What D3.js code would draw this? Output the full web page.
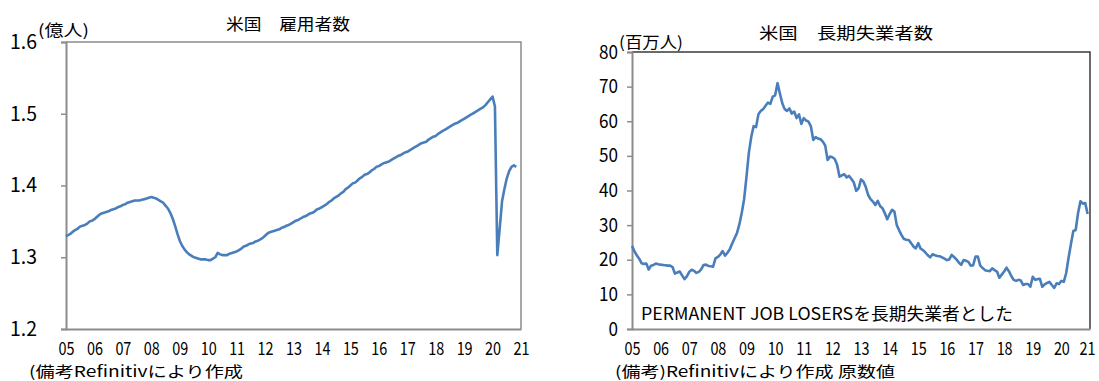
<!DOCTYPE html>
<html>
<head>
<meta charset="utf-8">
<script src="https://cdn.jsdelivr.net/npm/d3@7"></script>
<style>
body { margin: 0; background: #fff; }
svg text { font-family: "Noto Sans CJK JP", "Noto Sans", sans-serif; fill: #000; }
</style>
</head>
<body>
<svg id="chart" width="1099" height="381"></svg>
<script>
// x axis: one label per year, 05 .. 21
const yearLabels = ['05','06','07','08','09','10','11','12','13','14','15','16','17','18','19','20','21'];

// 米国 雇用者数 (億人), monthly
const employment = [
	1.329,1.331,1.333,1.336,1.338,1.340,1.343,1.344,1.345,1.347,1.350,1.351,
	1.353,1.356,1.359,1.361,1.362,1.363,1.364,1.366,1.367,1.368,1.370,1.371,
	1.373,1.374,1.376,1.377,1.378,1.379,1.379,1.379,1.380,1.381,1.382,1.383,
	1.384,1.383,1.382,1.380,1.378,1.376,1.372,1.368,1.362,1.354,1.344,1.333,
	1.323,1.316,1.311,1.307,1.304,1.302,1.300,1.299,1.298,1.297,1.297,1.297,
	1.296,1.296,1.298,1.300,1.306,1.304,1.303,1.303,1.303,1.305,1.306,1.307,
	1.308,1.310,1.312,1.315,1.316,1.318,1.319,1.320,1.322,1.323,1.325,1.327,
	1.330,1.333,1.335,1.336,1.337,1.338,1.339,1.341,1.342,1.344,1.345,1.347,
	1.349,1.351,1.352,1.354,1.356,1.357,1.359,1.361,1.362,1.364,1.367,1.368,
	1.370,1.372,1.374,1.377,1.379,1.382,1.384,1.386,1.389,1.391,1.395,1.397,
	1.400,1.403,1.404,1.407,1.410,1.412,1.415,1.416,1.418,1.421,1.423,1.426,
	1.427,1.429,1.431,1.432,1.433,1.435,1.437,1.439,1.441,1.442,1.444,1.446,
	1.447,1.449,1.451,1.453,1.455,1.457,1.459,1.460,1.461,1.464,1.466,1.468,
	1.469,1.472,1.474,1.476,1.478,1.480,1.482,1.484,1.486,1.487,1.489,1.491,
	1.493,1.495,1.497,1.499,1.501,1.503,1.505,1.507,1.509,1.512,1.516,1.520,
	1.524,1.510,1.303,1.340,1.378,1.395,1.410,1.420,1.426,1.428,1.426
];

// 米国 長期失業者数 (百万人), monthly, 原数値
const longTermJobless = [
	24.0,22.5,21.3,20.3,19.0,18.8,18.9,17.2,18.3,18.5,18.9,18.7,
	18.6,18.5,18.4,18.3,18.3,17.9,16.0,16.3,16.6,15.5,14.4,15.2,
	16.5,17.1,16.8,16.2,16.5,17.2,18.5,18.6,18.2,18.1,18.0,20.4,
	20.8,21.5,22.5,21.2,22.0,23.0,24.7,26.2,27.7,30.2,33.5,37.5,
	44.0,51.0,55.5,58.6,58.3,62.0,63.0,63.5,64.5,65.4,65.0,67.1,
	67.5,71.0,68.0,65.2,63.5,63.0,63.7,62.2,62.8,60.9,62.0,59.2,
	60.9,60.2,59.9,58.5,54.6,55.4,55.0,54.8,54.1,53.0,48.8,49.8,
	49.6,49.1,47.4,44.0,44.4,44.7,43.8,44.2,43.3,42.3,39.9,40.6,
	43.2,42.6,41.0,38.7,37.5,36.8,35.8,37.0,35.5,34.9,33.4,31.7,
	33.2,34.4,33.9,30.0,28.5,27.1,26.0,25.8,25.7,24.8,23.8,23.3,
	24.8,23.2,22.8,22.1,21.3,20.7,21.6,21.3,21.1,21.0,20.7,20.3,
	19.9,20.1,21.4,20.8,20.1,19.2,18.5,19.9,19.7,19.4,18.3,18.4,
	20.9,20.9,18.3,17.6,17.0,16.8,16.7,17.5,17.0,16.6,14.8,15.7,
	16.6,17.7,16.7,15.3,14.2,13.9,14.2,14.0,12.7,13.0,13.0,12.2,
	15.1,14.2,14.4,14.5,12.2,12.9,13.3,13.6,12.7,11.9,13.2,13.0,
	13.9,13.6,16.1,20.5,24.5,28.3,28.6,33.5,36.9,36.2,36.4,33.2
];

const leftTicks = [1.2, 1.3, 1.4, 1.5, 1.6];
const rightTicks = [0, 10, 20, 30, 40, 50, 60, 70, 80];

const lineColour = '#4a7ebb';
const axisColour = '#8c8c8c';
const svg = d3.select('#chart');

const drawPanel = cfg => {
	const x = d3.scaleLinear()
		.domain([0, (yearLabels.length - 1) * 12])
		.range([cfg.left, cfg.right]);
	const y = d3.scaleLinear()
		.domain(cfg.domain)
		.range([cfg.bottom, cfg.top]);

	const g = svg.append('g');

	// frame: top / right
	g.append('path')
		.attr('d', `M${cfg.left},${cfg.top}H${cfg.right}V${cfg.bottom}`)
		.attr('fill', 'none')
		.attr('stroke', cfg.frameColour)
		.attr('stroke-width', 1.5);

	// y axis
	g.append('g')
		.attr('transform', `translate(${cfg.left},0)`)
		.call(d3.axisLeft(y)
			.tickValues(cfg.ticks)
			.tickSize(5)
			.tickPadding(cfg.tickPad)
			.tickFormat(cfg.fmt))
		.call(a => a.select('.domain').attr('stroke', axisColour).attr('stroke-width', 2))
		.call(a => a.selectAll('.tick line').attr('stroke', axisColour).attr('stroke-width', 1.5))
		.call(a => a.selectAll('.tick text')
			.attr('font-size', cfg.yFont)
			.attr('fill', '#000')
			.attr('textLength', function () { return this.textContent.length * cfg.yChar; })
			.attr('lengthAdjust', 'spacingAndGlyphs'));

	// x axis, labels only
	const lastTick = (yearLabels.length - 1) * 12;
	g.append('g')
		.attr('transform', `translate(0,${cfg.bottom})`)
		.call(d3.axisBottom(x)
			.tickValues(yearLabels.map((d, i) => i * 12))
			.tickSize(0)
			.tickPadding(13)
			.tickFormat((d, i) => yearLabels[i]))
		.call(a => a.select('.domain').attr('stroke', axisColour).attr('stroke-width', 2))
		.call(a => a.selectAll('.tick text')
			.attr('font-size', 18)
			.attr('fill', '#000')
			.attr('dx', d => d === lastTick ? -cfg.lastShift : 0)
			.attr('textLength', 16)
			.attr('lengthAdjust', 'spacingAndGlyphs'));

	// series
	g.append('path')
		.datum(cfg.data)
		.attr('fill', 'none')
		.attr('stroke', lineColour)
		.attr('stroke-width', 2.6)
		.attr('stroke-linejoin', 'round')
		.attr('d', d3.line()
			.x((d, i) => x(i))
			.y(d => y(d)));

	// texts
	cfg.labels.forEach(t => {
		const txt = g.append('text')
			.attr('x', t.x)
			.attr('y', t.y)
			.attr('font-size', t.size)
			.attr('text-anchor', t.anchor || 'start')
			.attr('dominant-baseline', 'central')
			.text(t.text);
		if (t.len) txt.attr('textLength', t.len).attr('lengthAdjust', 'spacingAndGlyphs');
	});
};

drawPanel({
	left: 66, right: 521, top: 42, bottom: 329,
	domain: [1.2, 1.6], ticks: leftTicks, fmt: d3.format('.1f'),
	yFont: 20, yChar: 9, tickPad: 24, lastShift: 0,
	frameColour: axisColour,
	data: employment,
	labels: [
		{ text: '米国　雇用者数', x: 288, y: 23, size: 16, anchor: 'middle', len: 124 },
		{ text: '(億人)', x: 38, y: 29, size: 16, len: 51 },
		{ text: '(備考Refinitivにより作成', x: 29, y: 370, size: 15, len: 214 }
	]
});

drawPanel({
	left: 632, right: 1090, top: 52, bottom: 329,
	domain: [0, 80], ticks: rightTicks, fmt: d3.format('d'),
	yFont: 19, yChar: 9.5, tickPad: 9, lastShift: 3,
	frameColour: '#3a3a3a',
	data: longTermJobless,
	labels: [
		{ text: '米国　長期失業者数', x: 846, y: 32, size: 16, anchor: 'middle', len: 174 },
		{ text: '(百万人)', x: 619, y: 41, size: 16, len: 64 },
		{ text: 'PERMANENT JOB LOSERSを長期失業者とした', x: 641, y: 312, size: 17, len: 372 },
		{ text: '(備考)Refinitivにより作成 原数値', x: 615, y: 370, size: 15, len: 280 }
	]
});
</script>
</body>
</html>
